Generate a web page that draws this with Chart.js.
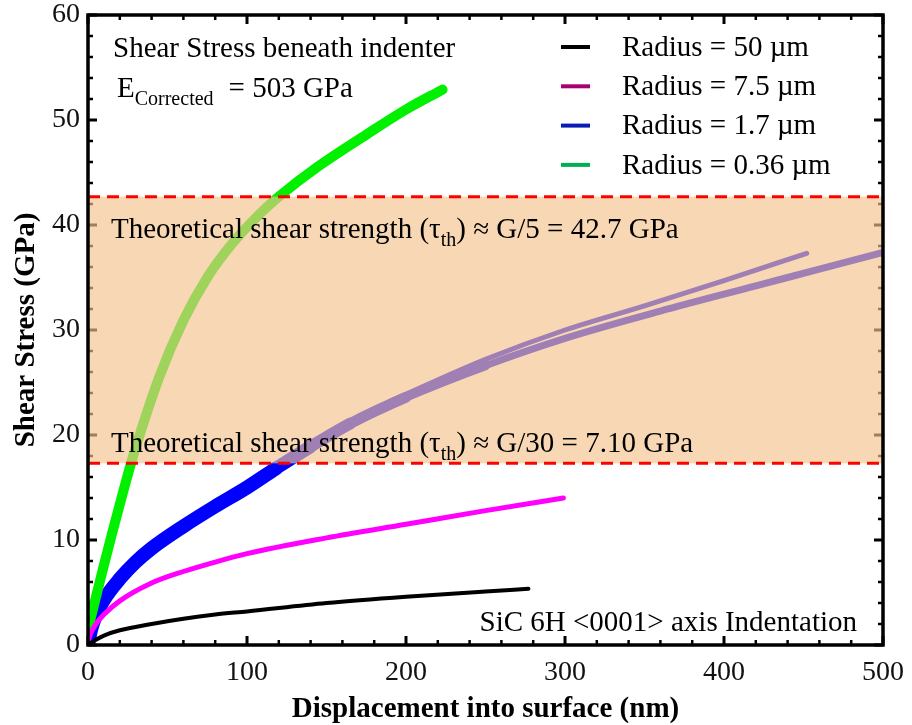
<!DOCTYPE html>
<html>
<head>
<meta charset="utf-8">
<title>Shear stress beneath indenter</title>
<script src="https://cdn.jsdelivr.net/npm/chart.js@4.4.0/dist/chart.umd.min.js"></script>
<style>
  html, body { margin: 0; padding: 0; background: #fff; }
  #wrap { width: 912px; height: 725px; }
</style>
</head>
<body>
<div id="wrap"><canvas id="shearChart" width="912" height="725"></canvas></div>
<script>
// displacement into surface (nm) vs shear stress (GPa), one pair per indenter radius
const disp50 = [0, 5, 10, 20, 40, 60, 80, 100, 150, 200, 250, 277];
const stress50 = [0, 0.5, 0.9, 1.4, 2.0, 2.5, 2.9, 3.2, 4.0, 4.6, 5.1, 5.35];

const disp75 = [0, 2, 5, 10, 20, 40, 60, 80, 100, 150, 200, 250, 299];
const stress75 = [0.3, 1.2, 2.0, 2.9, 4.2, 5.9, 7.0, 7.9, 8.7, 10.2, 11.5, 12.8, 14.0];

const disp17 = [0, 2, 5, 10, 20, 30, 40, 60, 80, 100, 118, 140, 165, 200, 250, 300, 360, 420, 460, 500];
const stress17 = [0, 1.5, 2.8, 4.3, 6.3, 7.9, 9.2, 11.3, 13.2, 15.0, 16.8, 18.9, 21.1, 23.6, 26.6, 29.2, 31.8, 34.2, 35.8, 37.4];
// upper branch of the 1.7 um runs, stops short of 500 nm
const disp17b = [190, 250, 300, 350, 400, 452];
const stress17b = [23.2, 27.2, 30.0, 32.3, 34.7, 37.3];

const disp036 = [0, 10, 20, 30, 45, 60, 75, 90, 105, 120, 145, 175, 200, 223];
const stress036 = [1.5, 7.6, 13.4, 18.8, 25.6, 30.9, 35.0, 38.1, 40.6, 42.7, 45.6, 48.6, 51.0, 52.9];

// theoretical shear strength band (GPa)
const tauUpper = 42.7;
const tauLower = 17.3;

const xTicks = [0, 100, 200, 300, 400, 500];
const yTicks = [0, 10, 20, 30, 40, 50, 60];

const legendLabels = ['Radius = 50 \u00b5m', 'Radius = 7.5 \u00b5m', 'Radius = 1.7 \u00b5m', 'Radius = 0.36 \u00b5m'];
const legendColors = ['#000000', '#a8006f', '#0a1cb4', '#00b050'];

const SERIF = '"Liberation Serif", "Times New Roman", serif';
const NOTE_SIZE = 29;

function toPoints(xs, ys) {
  return xs.map((x, i) => ({ x: x, y: ys[i] }));
}

// draws a string made of normal / subscript runs, returns end x
function drawRuns(ctx, x, y, runs, size) {
  let cx = x;
  runs.forEach(r => {
    if (r.sub) {
      ctx.font = `${Math.round(size * 0.68)}px ${SERIF}`;
      ctx.fillText(r.t, cx, y + size * 0.26);
    } else {
      ctx.font = `${size}px ${SERIF}`;
      ctx.fillText(r.t, cx, y);
    }
    cx += ctx.measureText(r.t).width;
  });
  return cx;
}

const frameAndNotes = {
  id: 'frameAndNotes',
  beforeDatasetsDraw(chart) {
    // inward tick marks on all four sides
    const ctx = chart.ctx;
    const { left, right, top, bottom } = chart.chartArea;
    const xs = chart.scales.x, ys = chart.scales.y;
    ctx.save();
    ctx.strokeStyle = '#000';
    for (let v = 0; v <= 500; v += 20) {
      const px = xs.getPixelForValue(v);
      const major = v % 100 === 0;
      const len = major ? 9 : 5;
      ctx.lineWidth = major ? 3 : 2.5;
      ctx.beginPath();
      ctx.moveTo(px, bottom); ctx.lineTo(px, bottom - len);
      ctx.moveTo(px, top); ctx.lineTo(px, top + len);
      ctx.stroke();
    }
    for (let v = 0; v <= 60; v += 2) {
      const py = ys.getPixelForValue(v);
      const major = v % 10 === 0;
      const len = major ? 9 : 5;
      ctx.lineWidth = major ? 3 : 2.5;
      ctx.beginPath();
      ctx.moveTo(left, py); ctx.lineTo(left + len, py);
      ctx.moveTo(right, py); ctx.lineTo(right - len, py);
      ctx.stroke();
    }
    ctx.restore();
  },
  afterDatasetsDraw(chart) {
    const ctx = chart.ctx;
    const { left, right, top, bottom } = chart.chartArea;
    const ys = chart.scales.y;
    const yHi = ys.getPixelForValue(tauUpper);
    const yLo = ys.getPixelForValue(tauLower);

    ctx.save();
    // shaded band sits over the curves
    ctx.fillStyle = 'rgba(245, 195, 140, 0.65)';
    ctx.fillRect(left, yHi, right - left, yLo - yHi);

    ctx.strokeStyle = '#ff0000';
    ctx.lineWidth = 3;
    ctx.setLineDash([12, 7]);
    [yHi, yLo].forEach(py => {
      ctx.beginPath();
      ctx.moveTo(left, py);
      ctx.lineTo(right, py);
      ctx.stroke();
    });
    ctx.setLineDash([]);

    // plot frame
    ctx.strokeStyle = '#000';
    ctx.lineWidth = 3.5;
    ctx.strokeRect(left, top, right - left, bottom - top);

    ctx.fillStyle = '#000';
    ctx.textAlign = 'left';
    ctx.textBaseline = 'alphabetic';

    ctx.font = `${NOTE_SIZE}px ${SERIF}`;
    ctx.fillText('Shear Stress beneath indenter', 113, 57);

    const ex = drawRuns(ctx, 117, 97, [{ t: 'E' }, { t: 'Corrected', sub: true }], NOTE_SIZE);
    ctx.font = `${NOTE_SIZE}px ${SERIF}`;
    ctx.fillText('= 503 GPa', ex + 15, 97);

    drawRuns(ctx, 111, 238, [
      { t: 'Theoretical shear strength (\u03c4' }, { t: 'th', sub: true }, { t: ') \u2248 G/5 = 42.7 GPa' }
    ], NOTE_SIZE);
    drawRuns(ctx, 111, 452, [
      { t: 'Theoretical shear strength (\u03c4' }, { t: 'th', sub: true }, { t: ') \u2248 G/30 = 7.10 GPa' }
    ], NOTE_SIZE);

    ctx.font = `${NOTE_SIZE}px ${SERIF}`;
    ctx.textAlign = 'right';
    ctx.fillText('SiC 6H <0001> axis Indentation', 857, 631);

    // legend
    ctx.textAlign = 'left';
    ctx.textBaseline = 'middle';
    legendLabels.forEach((lab, i) => {
      const ly = 47 + i * 39.3;
      ctx.strokeStyle = legendColors[i];
      ctx.lineWidth = 4;
      ctx.beginPath();
      ctx.moveTo(561, ly);
      ctx.lineTo(590, ly);
      ctx.stroke();
      ctx.fillStyle = '#000';
      ctx.fillText(lab, 622, ly + 1);
    });
    ctx.restore();
  }
};

const lineBase = {
  pointRadius: 0,
  fill: false,
  cubicInterpolationMode: 'monotone',
  borderCapStyle: 'round',
  borderJoinStyle: 'round'
};

const axisTitleFont = { family: SERIF, size: 29, weight: 'bold', lineHeight: 1.0 };
const tickFont = { family: SERIF, size: 28 };

new Chart(document.getElementById('shearChart').getContext('2d'), {
  type: 'line',
  data: {
    datasets: [
      Object.assign({}, lineBase, {
        label: legendLabels[0], data: toPoints(disp50, stress50),
        borderColor: '#000000', borderWidth: 4, order: 0
      }),
      Object.assign({}, lineBase, {
        label: legendLabels[1], data: toPoints(disp75, stress75),
        borderColor: '#ff00ff', borderWidth: 5, order: 1
      }),
      Object.assign({}, lineBase, {
        label: legendLabels[3], data: toPoints(disp036, stress036),
        borderColor: '#00f000', borderWidth: 10, order: 2,
        cubicInterpolationMode: 'default', tension: 0.35
      }),
      Object.assign({}, lineBase, {
        label: legendLabels[2], data: toPoints(disp17, stress17),
        borderColor: '#0000ff', borderWidth: 14, order: 3,
        segment: {
          borderWidth: c => {
            const x = c.p0.parsed.x;
            if (x < 100) return 14;
            return Math.max(7, 14 - (x - 100) * 0.05);
          }
        }
      }),
      Object.assign({}, lineBase, {
        label: legendLabels[2] + ' (branch)', data: toPoints(disp17b, stress17b),
        borderColor: '#0000ff', borderWidth: 5, order: 4
      })
    ]
  },
  options: {
    responsive: false,
    animation: false,
    layout: { padding: { top: 15, right: 29, left: 0, bottom: 0 } },
    plugins: {
      legend: { display: false },
      tooltip: { enabled: false }
    },
    scales: {
      x: {
        type: 'linear',
        min: 0,
        max: 500,
        afterFit: s => { s.height = 80; s.paddingLeft = 0; s.paddingRight = 0; },
        afterBuildTicks: s => { s.ticks = xTicks.map(v => ({ value: v })); },
        grid: { display: false, drawTicks: false },
        border: { display: false },
        title: {
          display: true,
          text: 'Displacement into surface (nm)',
          color: '#000',
          font: axisTitleFont,
          padding: { top: 0, bottom: 1 }
        },
        ticks: {
          autoSkip: false,
          maxRotation: 0,
          padding: 11,
          color: '#111',
          font: tickFont
        }
      },
      y: {
        type: 'linear',
        min: 0,
        max: 60,
        afterFit: s => { s.width = 88; s.paddingTop = 0; s.paddingBottom = 0; },
        afterBuildTicks: s => { s.ticks = yTicks.map(v => ({ value: v })); },
        grid: { display: false, drawTicks: false },
        border: { display: false },
        title: {
          display: true,
          text: 'Shear Stress (GPa)',
          color: '#000',
          font: axisTitleFont,
          padding: { top: 12, bottom: 0 }
        },
        ticks: {
          autoSkip: false,
          padding: 8,
          color: '#111',
          font: tickFont
        }
      }
    }
  },
  plugins: [frameAndNotes]
});
</script>
</body>
</html>
